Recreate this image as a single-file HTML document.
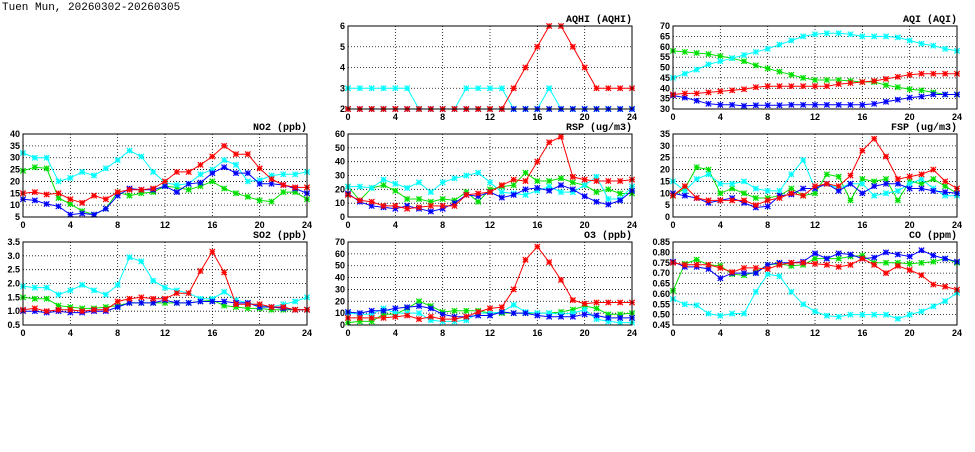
<!DOCTYPE html>
<html><head><meta charset="utf-8">
<style>
body{margin:0;background:#fff;width:975px;height:447px;overflow:hidden;font-family:"Liberation Sans",sans-serif}
svg text{font-family:"Liberation Sans",sans-serif;font-weight:bold}
svg text.mono{font-family:"Liberation Mono",monospace}
svg text.title{font-family:"Liberation Mono",monospace;font-weight:normal}
</style></head>
<body>
<svg id="c" width="975" height="447" xmlns="http://www.w3.org/2000/svg">
<text class="title" x="2" y="10" font-size="11">Tuen Mun, 20260302-20260305</text>
</svg>
<script>
const hours=[0,1,2,3,4,5,6,7,8,9,10,11,12,13,14,15,16,17,18,19,20,21,22,23,24];
const seriesNames=["green","cyan","blue","red"];
const aqhiGreen=[2,2,2,2,2,2,2,2,2,2,2,2,2,2,2,2,2,2,2,2,2,2,2,2,2];
const aqhiCyan=[3,3,3,3,3,3,2,2,2,2,3,3,3,3,2,2,2,3,2,2,2,2,2,2,2];
const aqhiBlue=[2,2,2,2,2,2,2,2,2,2,2,2,2,2,2,2,2,2,2,2,2,2,2,2,2];
const aqhiRed=[2,2,2,2,2,2,2,2,2,2,2,2,2,2,3,4,5,6,6,5,4,3,3,3,3];
const aqiCyan=[45,47,49,51.5,53,54.5,56,57.5,59,61,63,65,66,66.5,66.5,66,65,65,65,64.5,63,61.5,60.5,59,58];
const aqiGreen=[58,57.5,57,56.5,55.5,54.5,53,51,49.5,48,46.5,45,44,44,44,43.5,43,43,41.5,40.5,39.5,39,38,37,37];
const aqiBlue=[36.5,35.5,34,32.5,32,32,31.5,31.8,31.8,31.8,32,32,32,32,32,32,32,32.5,33.5,34.5,35.5,36,37,37,37];
const aqiRed=[37,37.5,37.5,38,38.5,39,39.5,40.5,41,41,41,41,41,41,42,42.5,43,43.5,44.5,45.5,46.5,47,47,47,47];
const no2Cyan=[32,30,30,20,21.5,24,22.5,25.5,29,33,30.5,24,19.5,18.5,19,23,25,29,27,20,20.5,22.5,23,23,24];
const no2Green=[24.5,26,25.5,13,10.5,7.5,6,8.5,15.5,14,15,15.5,18,17.5,16.5,18,20,17,15,13.5,12,11.5,15.5,15.5,12.5];
const no2Blue=[12.5,12,10.5,9.5,6,6.5,6,8.5,14,17,16.5,16.5,18,15.5,19,19.5,23.5,26,23.5,23.5,19,19,18.5,17,15];
const no2Red=[15,15.5,14.5,15,12.5,11,14,12.5,15.5,16.5,16.5,17,20,24,24,27,30.5,35,31.5,31.5,25.5,21,18.5,17.5,17.5];
const rspCyan=[22,22,21,27,24,21,25,18,25,28,30,32,25,18,17,16,19,22,18,18,23,29,13,13,22];
const rspGreen=[22,12,21,23,19,13,13,11,13,12,18,11,20,22,23,32,26,26,28,25,23,18,20,17,17];
const rspBlue=[17,11,8,7,6,8,6,4,6,10,16,15,18,14,16,20,21,19,23,20,15,11,9,12,19];
const rspRed=[16,12,11,8,8,6,7,8,8,8,16,17,18,23,27,26,40,54,58,29,27,26,26,26,27];
const fspCyan=[15,11,16,18,14,14,15,12,11,11,18,24,12,14,12,14,14,9,10,11,14,16,12,9,9];
const fspGreen=[9,12,21,20,10,12,10,8,8,9,12,9,10,18,17,7,16,15,16,7,15,14,16,13,10];
const fspBlue=[10,9,8,6,7,8,6,4,4.5,9,9.5,12,12,14,11,14,10,13,14,14,12,12,11,10.5,10];
const fspRed=[9,13,8,7,7,7,7,5,7,8,10,9,13,14,13,17.5,28,33,25.5,16,17,18,20,15,12];
const so2Cyan=[1.9,1.85,1.85,1.6,1.75,1.95,1.75,1.6,1.95,2.95,2.8,2.1,1.85,1.75,1.65,1.45,1.45,1.7,1.4,1.3,1.2,1.15,1.25,1.35,1.5];
const so2Green=[1.5,1.45,1.45,1.2,1.15,1.1,1.1,1.15,1.2,1.3,1.3,1.3,1.3,1.3,1.3,1.35,1.4,1.2,1.15,1.1,1.1,1.05,1.05,1.05,1.05];
const so2Blue=[1,1,0.95,1,0.95,0.95,1,1,1.15,1.3,1.3,1.3,1.4,1.3,1.3,1.35,1.35,1.35,1.3,1.3,1.15,1.15,1.1,1.05,1.05];
const so2Red=[1.05,1.1,1,1.05,1.05,1,1.05,1.05,1.35,1.45,1.5,1.45,1.45,1.65,1.65,2.45,3.15,2.4,1.25,1.25,1.25,1.15,1.15,1.05,1.05];
const o3Cyan=[10,9,9,14,10,10,10,4,3,3,4,10,10,11,17,11,10,10,9,10,13,5,3,2,2];
const o3Green=[2,3,3,9,9,14,20,16,11,12,12,12,10,10,10,10,10,10,11,13,16,14,9,9,10];
const o3Blue=[11,10,12,12,14,15,16,14,9,7,7,8,8,11,10,10,8,7,7,7,9,8,6,6,6];
const o3Red=[6,6,6,6,7,8,5,7,5,5,7,11,14,15,30,55,66,53,38,21,18,19,19,19,19];
const coCyan=[0.575,0.55,0.545,0.505,0.495,0.505,0.505,0.61,0.695,0.685,0.61,0.55,0.515,0.495,0.49,0.5,0.5,0.5,0.5,0.48,0.5,0.515,0.54,0.565,0.605];
const coGreen=[0.615,0.745,0.765,0.74,0.735,0.695,0.69,0.705,0.74,0.745,0.735,0.74,0.77,0.77,0.77,0.78,0.785,0.75,0.75,0.75,0.745,0.75,0.755,0.77,0.75];
const coBlue=[0.755,0.73,0.73,0.72,0.675,0.7,0.7,0.7,0.74,0.75,0.75,0.755,0.795,0.77,0.795,0.79,0.77,0.775,0.8,0.79,0.78,0.81,0.785,0.77,0.755];
const coRed=[0.75,0.74,0.74,0.74,0.725,0.705,0.725,0.725,0.72,0.74,0.75,0.75,0.745,0.74,0.73,0.74,0.77,0.74,0.7,0.735,0.715,0.69,0.645,0.635,0.62];
const xTicks=[0,4,8,12,16,20,24];

const colors={green:"#00e000",cyan:"#00ffff",blue:"#0000ff",red:"#ff0000"};
const NS="http://www.w3.org/2000/svg";
const svg=document.getElementById('c');
function el(tag,attrs,parent){const e=document.createElementNS(NS,tag);for(const k in attrs)e.setAttribute(k,attrs[k]);(parent||svg).appendChild(e);return e;}

function panel(key,title,x0,x1,y0,y1,min,max,step,dec,data){
  const g=el('g',{});
  
  
  const sx=v=>x0+(v-0)/24*(x1-x0);
  const sy=v=>y1-(v-min)/(max-min)*(y1-y0);
  const n=Math.round((max-min)/step);
  for(let i=0;i<=n;i++){
    const v=min+i*step,y=sy(v);
    if(i>0&&i<n){const l=el('line',{x1:x0,x2:x1,y1:y,y2:y,stroke:'#000','stroke-width':0.8,'stroke-dasharray':'1,2'},g);
      }
    const t=el('text',{x:x0-3,y:y+3,'text-anchor':'end','font-size':9},g);
    
    t.textContent=v.toFixed(dec);
  }
  xTicks.forEach((v,i)=>{
    const x=sx(v);
    if(i>0&&i<xTicks.length-1){const l=el('line',{x1:x,x2:x,y1:y0,y2:y1,stroke:'#000','stroke-width':0.8,'stroke-dasharray':'1,2'},g);
      }
    const t=el('text',{x:x,y:y1+11,'text-anchor':'middle','font-size':9},g);
    
    t.textContent=v;
  });
  const tt=el('text',{x:x1,y:y0-4,'text-anchor':'end','font-size':10,'class':'mono'},g);
  
  tt.textContent=title;
  seriesNames.forEach((s,si)=>{
    const vals=data[si],c=colors[s];
    const pts=hours.map((h,i)=>sx(h).toFixed(1)+','+sy(vals[i]).toFixed(1)).join(' ');
    const pl=el('polyline',{points:pts,fill:'none',stroke:c,'stroke-width':1},g);
    
    hours.forEach((h,i)=>{
      const x=sx(h),y=sy(vals[i]),r=2.7;
      const m=el('path',{d:`M${x-r},${y-r}L${x+r},${y+r}M${x-r},${y+r}L${x+r},${y-r}M${x-r},${y}L${x+r},${y}M${x},${y-r}L${x},${y+r}`,stroke:c,'stroke-width':1.2},g);
      
    });
  });
  const fr=el('rect',{x:x0,y:y0,width:x1-x0,height:y1-y0,fill:'none',stroke:'#000','stroke-width':1},g);
  
}
const L=[23,307],M=[348,632],R=[673,957];
panel('aqhi','AQHI (AQHI)',M[0],M[1],26,109,2,6,1,0,[aqhiGreen,aqhiCyan,aqhiBlue,aqhiRed]);
panel('aqi','AQI (AQI)',R[0],R[1],26,109,30,70,5,0,[aqiGreen,aqiCyan,aqiBlue,aqiRed]);
panel('no2','NO2 (ppb)',L[0],L[1],134,217,5,40,5,0,[no2Green,no2Cyan,no2Blue,no2Red]);
panel('rsp','RSP (ug/m3)',M[0],M[1],134,217,0,60,10,0,[rspGreen,rspCyan,rspBlue,rspRed]);
panel('fsp','FSP (ug/m3)',R[0],R[1],134,217,0,35,5,0,[fspGreen,fspCyan,fspBlue,fspRed]);
panel('so2','SO2 (ppb)',L[0],L[1],242,325,0.5,3.5,0.5,1,[so2Green,so2Cyan,so2Blue,so2Red]);
panel('o3','O3 (ppb)',M[0],M[1],242,325,0,70,10,0,[o3Green,o3Cyan,o3Blue,o3Red]);
panel('co','CO (ppm)',R[0],R[1],242,325,0.45,0.85,0.05,2,[coGreen,coCyan,coBlue,coRed]);
</script>
</body></html>
